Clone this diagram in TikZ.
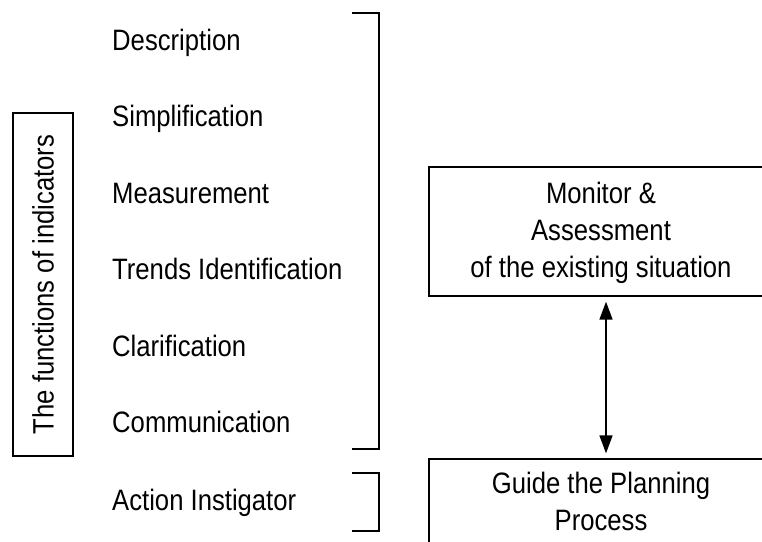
\documentclass[tikz,border=0pt]{standalone}
\usepackage{fontspec}
\setmainfont{Liberation Sans}[FakeStretch=0.87]
\usetikzlibrary{arrows.meta}
\tikzset{
  lbl/.style={anchor=base west, inner sep=0pt, font=\fontsize{29.5}{37}\selectfont},
  ctr/.style={anchor=base, inner sep=0pt, font=\fontsize{29.5}{37}\selectfont},
  boxx/.style={draw, line width=1.3pt, inner sep=0pt},
  brk/.style={draw, line width=1.5pt, line cap=butt, line join=miter},
  dbl/.style={line width=1.5pt, {Triangle[width=13pt,length=18pt]}-{Triangle[width=13pt,length=18pt]}, shorten <=5pt, shorten >=5pt}
}
\begin{document}
\begin{tikzpicture}[x=1pt,y=-1pt]
\useasboundingbox (0,0) rectangle (762,541);
\clip (0,0) rectangle (762,541);
% left rotated box
\node[boxx, rotate=90, minimum width=343pt, minimum height=60pt, font=\fontsize{29.5}{37}\selectfont] (fun) at (43,284.5) {The functions of indicators};
% left labels
\node[lbl] (t1) at (112,50) {Description};
\node[lbl] (t2) at (112,126.5) {Simplification};
\node[lbl] (t3) at (112,203) {Measurement};
\node[lbl] (t4) at (112,279.5) {Trends Identification};
\node[lbl] (t5) at (112,356) {Clarification};
\node[lbl] (t6) at (112,432.5) {Communication};
\node[lbl] (t7) at (112,510) {Action Instigator};
% brackets
\draw[brk] (352,13) -- (379,13) -- (379,449) -- (352,449);
\draw[brk] (352,473) -- (379,473) -- (379,531) -- (352,531);
% right boxes
\node[boxx, minimum width=354pt, minimum height=129pt] (mon) at (606,231.5) {};
\node[ctr] (m1) at (601,203) {Monitor \&};
\node[ctr] (m2) at (601,240) {Assessment};
\node[ctr] (m3) at (601,277) {of the existing situation};
\node[boxx, minimum width=354pt, minimum height=120pt] (gd) at (606,519) {};
\node[ctr] (g1) at (601,493) {Guide the Planning};
\node[ctr] (g2) at (601,530) {Process};
% arrow
\draw[dbl] (mon.south) -- (gd.north);
\end{tikzpicture}
\end{document}
